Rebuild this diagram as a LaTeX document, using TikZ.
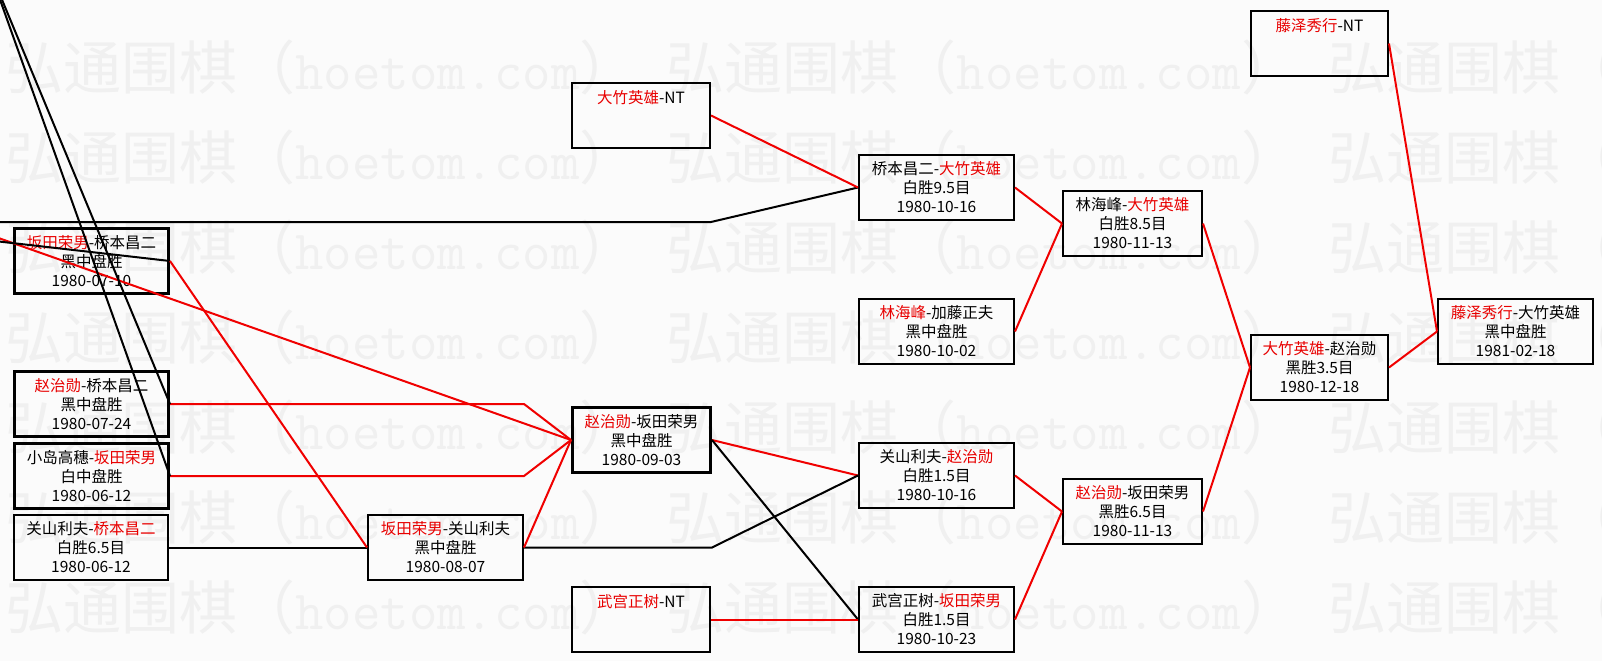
\documentclass[tikz,border=0pt]{standalone}
\usepackage{fontspec}
\newfontfamily\cjk{Noto Sans CJK SC}
\definecolor{tred}{RGB}{232,0,0}
\definecolor{lred}{RGB}{240,0,0}
\definecolor{bgc}{RGB}{251,251,251}
\definecolor{wmc}{RGB}{240,240,240}
\newcommand\redname[1]{\textcolor{tred}{#1}}
\newcommand\wmunit{{\cjk\fontsize{58}{58}\selectfont 弘通围棋（}{\ttfamily\fontsize{55.25}{58}\selectfont hoetom.com}{\cjk\fontsize{58}{58}\selectfont ）}\hspace{29pt}}
\tikzset{
  game/.style={draw, line width=2pt, anchor=north west, minimum height=65pt,
    inner sep=0pt, align=center, font=\cjk\fontsize{15.5}{19}\selectfont, text=black},
  thickbox/.style={line width=3pt},
  win/.style={draw=lred, line width=2pt},
  lose/.style={draw=black, line width=2pt},
  wm/.style={text=wmc, inner sep=0pt, anchor=base west},
}
\begin{document}
\begin{tikzpicture}[x=1pt,y=-1pt]
\useasboundingbox (0,0) rectangle (1602,661);
\clip (0,0) rectangle (1602,661);
\fill[bgc] (0,0) rectangle (1602,661);
\foreach \i in {1,...,7} \node[wm] (wm\i) at (5,{89+90*(\i-1)}) {\wmunit\wmunit\wmunit};

\node[game,thickbox,minimum width=154pt] (A) at (13,227) {\redname{坂田荣男}-桥本昌二\\黑中盘胜\\1980-07-10};
\node[game,thickbox,minimum width=154pt] (B) at (13,370) {\redname{赵治勋}-桥本昌二\\黑中盘胜\\1980-07-24};
\node[game,thickbox,minimum width=154pt] (C) at (13,442) {小岛高穗-\redname{坂田荣男}\\白中盘胜\\1980-06-12};
\node[game,minimum width=154pt] (D) at (13,514) {关山利夫-\redname{桥本昌二}\\白胜6.5目\\1980-06-12};
\node[game,minimum width=155pt] (E) at (367,514) {\redname{坂田荣男}-关山利夫\\黑中盘胜\\1980-08-07};
\node[game,thickbox,minimum width=138pt] (F) at (571,406) {\redname{赵治勋}-坂田荣男\\黑中盘胜\\1980-09-03};
\node[game,minimum width=138pt] (G) at (571,82) {\redname{大竹英雄}-NT\\\phantom{1}\\\phantom{1}};
\node[game,minimum width=138pt] (H) at (571,586) {\redname{武宫正树}-NT\\\phantom{1}\\\phantom{1}};
\node[game,minimum width=155pt] (I) at (858,154) {桥本昌二-\redname{大竹英雄}\\白胜9.5目\\1980-10-16};
\node[game,minimum width=155pt] (J) at (858,298) {\redname{林海峰}-加藤正夫\\黑中盘胜\\1980-10-02};
\node[game,minimum width=155pt] (K) at (858,442) {关山利夫-\redname{赵治勋}\\白胜1.5目\\1980-10-16};
\node[game,minimum width=155pt] (L) at (858,586) {武宫正树-\redname{坂田荣男}\\白胜1.5目\\1980-10-23};
\node[game,minimum width=139pt] (M) at (1062,190) {林海峰-\redname{大竹英雄}\\白胜8.5目\\1980-11-13};
\node[game,minimum width=139pt] (N) at (1062,478) {\redname{赵治勋}-坂田荣男\\黑胜6.5目\\1980-11-13};
\node[game,minimum width=137pt] (O) at (1250,10) {\redname{藤泽秀行}-NT\\\phantom{1}\\\phantom{1}};
\node[game,minimum width=137pt] (P) at (1250,334) {\redname{大竹英雄}-赵治勋\\黑胜3.5目\\1980-12-18};
\node[game,minimum width=155pt] (Q) at (1437,298) {\redname{藤泽秀行}-大竹英雄\\黑中盘胜\\1981-02-18};

\coordinate (s1) at (-10,222);
\coordinate (s2) at (-10,240.5);
\coordinate (s3) at (-10,235);
\coordinate (s4) at (-7,-20);
\coordinate (s5) at (-6.2,-20);

\draw[lose] (s1) -- (s1 -| G.east) -- (I.west);
\draw[win] (G.east) -- (I.west);
\draw[win] (I.east) -- (M.west);
\draw[win] (J.east) -- (M.west);
\draw[win] (M.east) -- (P.west);
\draw[win] (N.east) -- (P.west);
\draw[win] (P.east) -- (Q.west);
\draw[win] (O.east) -- (Q.west);
\draw[win] (K.east) -- (N.west);
\draw[win] (L.east) -- (N.west);
\draw[win] (F.east) -- (K.west);
\draw[lose] (F.east) -- (L.west);
\draw[win] (H.east) -- (L.west);
\draw[lose] (E.east) -- (E.east -| F.east) -- (K.west);
\draw[win] (E.east) -- (F.west);
\draw[win] (B.east) -- (B.east -| E.east) -- (F.west);
\draw[win] (C.east) -- (C.east -| E.east) -- (F.west);
\draw[lose] (D.east) -- (E.west);
\draw[win] (s3) -- (F.west);
\draw[lose] (s2) -- (A.east);
\draw[win] (A.east) -- (E.west);
\draw[lose] (s4) -- (C.east);
\draw[lose] (s5) -- (B.east);
\end{tikzpicture}
\end{document}
